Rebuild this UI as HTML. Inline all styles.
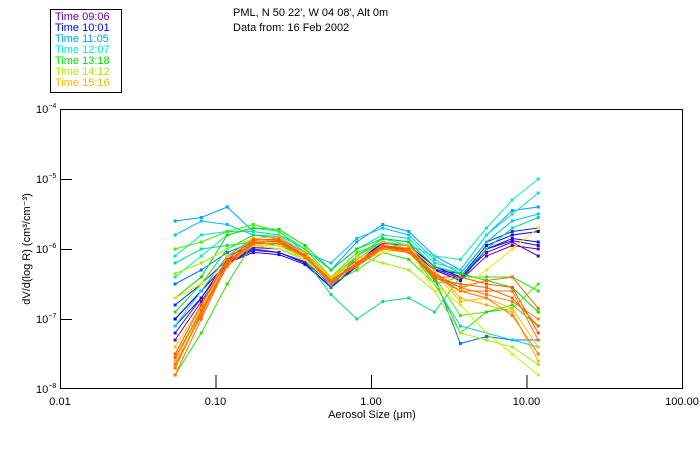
<!DOCTYPE html>
<html><head><meta charset="utf-8"><style>
html,body{margin:0;padding:0;background:#fff;}
svg{display:block;font-family:"Liberation Sans",sans-serif;}
</style></head><body>
<svg id="chart" width="700" height="450" viewBox="0 0 700 450" xmlns="http://www.w3.org/2000/svg">
<rect x="0" y="0" width="700" height="450" fill="#fff"/>
<g>
<rect x="50.5" y="9.5" width="71" height="83" fill="#fff" stroke="#000" stroke-width="1"/>
<text x="55" y="20" font-size="11" fill="#6a00a8">Time 09:06</text>
<text x="55" y="31" font-size="11" fill="#0000ff">Time 10:01</text>
<text x="55" y="42" font-size="11" fill="#00a0ff">Time 11:05</text>
<text x="55" y="53" font-size="11" fill="#00f0c0">Time 12:07</text>
<text x="55" y="64" font-size="11" fill="#00e000">Time 13:18</text>
<text x="55" y="75" font-size="11" fill="#a0f000">Time 14:12</text>
<text x="55" y="86" font-size="11" fill="#ffb000">Time 15:16</text>
</g>
<text x="233" y="16" font-size="11" fill="#000">PML, N 50 22', W 04 08', Alt 0m</text>
<text x="233" y="31" font-size="11" fill="#000">Data from: 16 Feb 2002</text>
<g id="series"></g>
<rect x="60.5" y="109.5" width="622" height="279" fill="none" stroke="#000" stroke-width="1"/>
<g id="axes"></g>
<text transform="translate(30,249) rotate(-90)" text-anchor="middle" font-size="11" fill="#000">dV/d(log R) (cm³/cm⁻³)</text>
<text x="372" y="418" text-anchor="middle" font-size="11" fill="#000">Aerosol Size (μm)</text>
</svg>
<script>
const xTicks = [0.01, 0.1, 1, 10, 100];
const xTickLabels = ["0.01", "0.10", "1.00", "10.00", "100.00"];
const yTicks = [-4, -5, -6, -7, -8];
const sizes = [0.055, 0.081, 0.119, 0.175, 0.256, 0.376, 0.553, 0.81, 1.19, 1.75, 2.56, 3.76, 5.53, 8.1, 11.9];
const seriesColors = ["#6a00a8","#5000c0","#3000d0","#1010e0","#0000ff","#0030ff","#0070ff","#00a0ff","#00c0ff","#00e0e0","#00d0e8","#00f0c0","#00e080","#00e000","#40f000","#30e000","#20e010","#a0f000","#d0f000","#ffe000","#ffb000","#ffc000","#ff8000","#ff5000","#ff7000","#ff6a00","#ff6000","#ff7800"];
const seriesValues = [
[-7.3,-6.75,-6.2,-6.02,-6.05,-6.2,-6.55,-6.25,-5.97,-6.0,-6.3,-6.45,-6.1,-5.95,-6.0],
[-7.1,-6.7,-6.15,-5.98,-6.0,-6.15,-6.5,-6.2,-5.92,-5.95,-6.25,-6.4,-6.05,-5.9,-6.1],
[-7.0,-6.6,-6.2,-6.05,-6.08,-6.22,-6.55,-6.22,-5.95,-6.0,-6.28,-6.42,-6.0,-5.88,-5.95],
[-7.2,-6.7,-6.2,-6.0,-6.05,-6.2,-6.55,-6.25,-5.95,-6.0,-6.3,-6.45,-6.0,-5.85,-5.9],
[-7.0,-6.6,-6.1,-5.95,-6.0,-6.15,-6.5,-6.2,-5.9,-5.95,-6.25,-6.4,-5.95,-5.8,-5.75],
[-6.8,-6.5,-6.15,-6.0,-6.05,-6.18,-6.5,-6.15,-5.9,-5.95,-6.3,-6.35,-5.9,-5.75,-5.7],
[-6.5,-6.3,-6.05,-5.9,-5.95,-6.1,-6.55,-6.1,-5.85,-5.9,-6.4,-7.35,-7.25,-7.3,-7.3],
[-5.6,-5.55,-5.4,-5.75,-5.8,-6.0,-6.3,-5.9,-5.65,-5.75,-6.1,-6.3,-5.8,-5.45,-5.4],
[-5.8,-5.6,-5.65,-5.8,-5.85,-6.05,-6.2,-5.85,-5.7,-5.8,-6.15,-6.35,-5.9,-5.6,-5.5],
[-6.1,-5.8,-5.75,-5.75,-5.8,-6.0,-6.3,-6.0,-5.8,-5.85,-6.2,-6.3,-5.8,-5.5,-5.2],
[-7.1,-6.6,-6.1,-5.85,-5.9,-6.1,-6.5,-6.2,-5.95,-6.0,-6.5,-7.1,-7.2,-7.3,-7.4],
[-6.4,-6.1,-5.8,-5.7,-5.75,-6.05,-6.45,-6.1,-5.85,-5.95,-6.1,-6.15,-5.7,-5.3,-5.0],
[-6.2,-6.0,-5.95,-5.9,-5.95,-6.15,-6.65,-7.0,-6.75,-6.7,-6.9,-6.4,-6.0,-5.7,-5.55],
[-6.7,-6.4,-5.8,-5.7,-5.72,-5.95,-6.3,-6.0,-5.85,-5.9,-6.25,-6.35,-6.45,-6.55,-6.9],
[-6.0,-5.9,-5.75,-5.65,-5.75,-6.0,-6.4,-6.05,-5.9,-6.0,-6.4,-6.95,-6.9,-6.85,-6.5],
[-7.8,-7.2,-6.5,-5.9,-5.95,-6.1,-6.5,-6.3,-6.05,-6.15,-6.5,-6.4,-6.4,-6.4,-6.6],
[-6.9,-6.5,-6.0,-5.8,-5.82,-6.05,-6.45,-6.1,-5.9,-6.0,-6.45,-7.2,-6.9,-6.8,-7.1],
[-6.35,-6.2,-6.0,-5.85,-5.9,-6.15,-6.4,-6.1,-6.2,-6.3,-6.6,-7.2,-7.3,-7.4,-7.65],
[-7.6,-6.9,-6.2,-5.95,-5.95,-6.15,-6.45,-6.2,-6.0,-6.05,-6.5,-6.8,-7.2,-7.5,-7.8],
[-6.7,-6.5,-6.2,-5.95,-6.0,-6.15,-6.5,-6.2,-6.05,-6.0,-6.6,-6.6,-6.3,-6.0,-5.7],
[-7.6,-6.85,-6.15,-5.85,-5.82,-6.05,-6.4,-6.15,-5.9,-5.95,-6.3,-6.7,-6.8,-6.9,-7.6],
[-7.4,-6.8,-6.1,-5.9,-5.88,-6.08,-6.42,-6.18,-5.95,-5.98,-6.35,-6.75,-6.7,-6.85,-7.4],
[-7.7,-6.9,-6.2,-5.88,-5.85,-6.08,-6.5,-6.2,-5.95,-6.0,-6.35,-6.55,-6.65,-6.75,-7.0],
[-7.5,-6.8,-6.15,-5.87,-5.87,-6.1,-6.45,-6.2,-5.95,-6.0,-6.4,-6.4,-6.5,-6.55,-7.2],
[-7.8,-7.0,-6.22,-5.9,-5.9,-6.12,-6.45,-6.25,-6.0,-6.05,-6.4,-6.6,-6.6,-6.6,-7.3],
[-7.65,-6.95,-6.18,-5.9,-5.9,-6.1,-6.5,-6.2,-5.97,-6.02,-6.38,-6.55,-6.45,-6.4,-6.85],
[-7.55,-6.88,-6.2,-5.92,-5.88,-6.1,-6.48,-6.22,-5.98,-6.03,-6.42,-6.5,-6.55,-6.7,-7.1],
[-7.7,-6.92,-6.25,-5.93,-5.92,-6.12,-6.46,-6.24,-6.0,-6.04,-6.36,-6.6,-6.7,-6.95,-7.5]
];
const NS="http://www.w3.org/2000/svg";
const X0=60, X1=682, Y0=109, Y1=389;
function xScale(v){return X0+(Math.log10(v)+2)/4*(X1-X0);}
function yScale(e){return Y0+(-4-e)/4*(Y1-Y0);}
const axes=document.getElementById('axes');
xTicks.forEach((t,i)=>{
  const x=xScale(t);
  if(i>0&&i<xTicks.length-1){
    const l=document.createElementNS(NS,'line');
    
    
    l.setAttribute('x1',x+0.5);l.setAttribute('x2',x+0.5);l.setAttribute('y1',Y1);l.setAttribute('y2',Y1-14);l.setAttribute('stroke','#000');
    axes.appendChild(l);
  }
  const tx=document.createElementNS(NS,'text');
  
  
  tx.setAttribute('x',x);tx.setAttribute('y',Y1+16);tx.setAttribute('text-anchor','middle');tx.setAttribute('font-size','11');
  tx.textContent=xTickLabels[i];
  axes.appendChild(tx);
});
yTicks.forEach((t,i)=>{
  const y=yScale(t);
  if(i>0&&i<yTicks.length-1){
    const l=document.createElementNS(NS,'line');
    
    
    l.setAttribute('x1',X0);l.setAttribute('x2',X0+12);l.setAttribute('y1',y+0.5);l.setAttribute('y2',y+0.5);l.setAttribute('stroke','#000');
    axes.appendChild(l);
  }
  const tx=document.createElementNS(NS,'text');
  
  
  tx.setAttribute('x',X0-24);tx.setAttribute('y',y+4);tx.setAttribute('font-size','11');
  tx.innerHTML='10<tspan dy="-5" font-size="7">'+(t<0?'−':'')+Math.abs(t)+'</tspan>';
  axes.appendChild(tx);
});
const sg=document.getElementById('series');
seriesValues.forEach((vals,si)=>{
  const c=seriesColors[si];
  const g=document.createElementNS(NS,'g');
  
  
  const pts=vals.map((v,i)=>xScale(sizes[i]).toFixed(1)+','+yScale(v).toFixed(1)).join(' ');
  const pl=document.createElementNS(NS,'polyline');
  
  
  pl.setAttribute('points',pts);pl.setAttribute('fill','none');pl.setAttribute('stroke',c);pl.setAttribute('stroke-width','1');
  g.appendChild(pl);
  vals.forEach((v,i)=>{
    const r=document.createElementNS(NS,'rect');
    
    
    r.setAttribute('x',xScale(sizes[i])-1.5);r.setAttribute('y',yScale(v)-1.5);r.setAttribute('width','3');r.setAttribute('height','3');r.setAttribute('fill',c);
    g.appendChild(r);
  });
  sg.appendChild(g);
});
</script>
</body></html>
